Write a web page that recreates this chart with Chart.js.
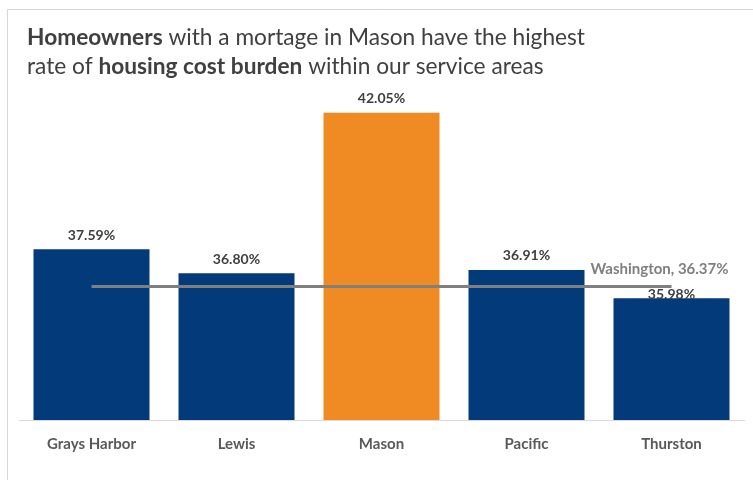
<!DOCTYPE html>
<html>
<head>
<meta charset="utf-8">
<script src="https://cdn.jsdelivr.net/npm/chart.js@4"></script>
<style>
    html, body { margin: 0; padding: 0; background: #ffffff; }
    #wrap { width: 753px; height: 480px; position: relative; }
</style>
</head>
<body>
<div id="wrap"><canvas id="burdenChart" width="753" height="480"></canvas></div>
<script>
// Share of mortgaged homeowners that are cost burdened, by county
const counties = ['Grays Harbor', 'Lewis', 'Mason', 'Pacific', 'Thurston'];
const burdenRates = [37.59, 36.80, 42.05, 36.91, 35.98];
const stateName = 'Washington';
const stateRate = 36.37;
const highlightCounty = 'Mason';

const NAVY = '#033a7a';
const ORANGE = '#ef8b22';
const FONT = 'Lato, "Open Sans", sans-serif';

// title with bold runs, drawn by hand
const titleLines = [
    [['Homeowners', true], [' with a mortage in Mason have the highest', false]],
    [['rate of ', false], ['housing cost burden', true], [' within our service areas', false]]
];

const titlePlugin = {
    id: 'richTitle',
    beforeDraw(chart) {
        const ctx = chart.ctx;
        ctx.save();
        // thin frame along top and left edge
        ctx.strokeStyle = '#d6d6d6';
        ctx.lineWidth = 1;
        ctx.beginPath();
        ctx.moveTo(7.5, 480);
        ctx.lineTo(7.5, 9.5);
        ctx.lineTo(753, 9.5);
        ctx.stroke();

        ctx.fillStyle = '#404040';
        ctx.textBaseline = 'alphabetic';
        titleLines.forEach((parts, i) => {
            let x = 27;
            const y = 45 + i * 29;
            parts.forEach(([text, bold]) => {
                ctx.font = (bold ? 'bold ' : '') + '22.7px ' + FONT;
                ctx.fillText(text, x, y);
                x += ctx.measureText(text).width;
            });
        });
        ctx.restore();
    }
};

const valueLabels = {
    id: 'valueLabels',
    afterDatasetsDraw(chart) {
        const ctx = chart.ctx;
        ctx.save();
        ctx.textAlign = 'center';
        ctx.textBaseline = 'middle';

        // bar values
        ctx.font = 'bold 14px ' + FONT;
        ctx.fillStyle = '#404040';
        const bars = chart.getDatasetMeta(1).data;
        bars.forEach((bar, i) => {
            // the last label sits lower to clear the state label
            const gap = i === bars.length - 1 ? 4 : 14;
            ctx.fillText(burdenRates[i].toFixed(2) + '%', bar.x, bar.y - gap);
        });

        // state reference label at the end of the line
        const pts = chart.getDatasetMeta(0).data;
        const end = pts[pts.length - 1];
        ctx.font = 'bold 15px ' + FONT;
        ctx.fillStyle = '#7f7f7f';
        ctx.fillText(stateName + ', ' + stateRate.toFixed(2) + '%', end.x - 12, end.y - 17);
        ctx.restore();
    }
};

const ctx = document.getElementById('burdenChart').getContext('2d');
new Chart(ctx, {
    data: {
        labels: counties,
        datasets: [{
            type: 'line',
            label: stateName,
            data: counties.map(() => stateRate),
            borderColor: '#7f7f7f',
            borderWidth: 3,
            pointRadius: 0,
            order: 0
        }, {
            type: 'bar',
            label: 'Cost burdened',
            data: burdenRates,
            backgroundColor: counties.map(c => c === highlightCounty ? ORANGE : NAVY),
            categoryPercentage: 0.8,
            barPercentage: 1.0,
            order: 1
        }]
    },
    options: {
        responsive: false,
        animation: false,
        layout: { padding: { top: 96, bottom: 12, left: 19, right: 9 } },
        plugins: {
            legend: { display: false },
            tooltip: { enabled: false },
            title: { display: false }
        },
        scales: {
            x: {
                grid: { display: false, drawTicks: false },
                border: { display: true, color: '#d9d9d9', width: 1 },
                ticks: {
                    color: '#595959',
                    font: { family: FONT, size: 15, weight: 'bold' },
                    padding: 15
                }
            },
            y: {
                display: false,
                min: 32,
                max: 42.6
            }
        }
    },
    plugins: [titlePlugin, valueLabels]
});
</script>
</body>
</html>
